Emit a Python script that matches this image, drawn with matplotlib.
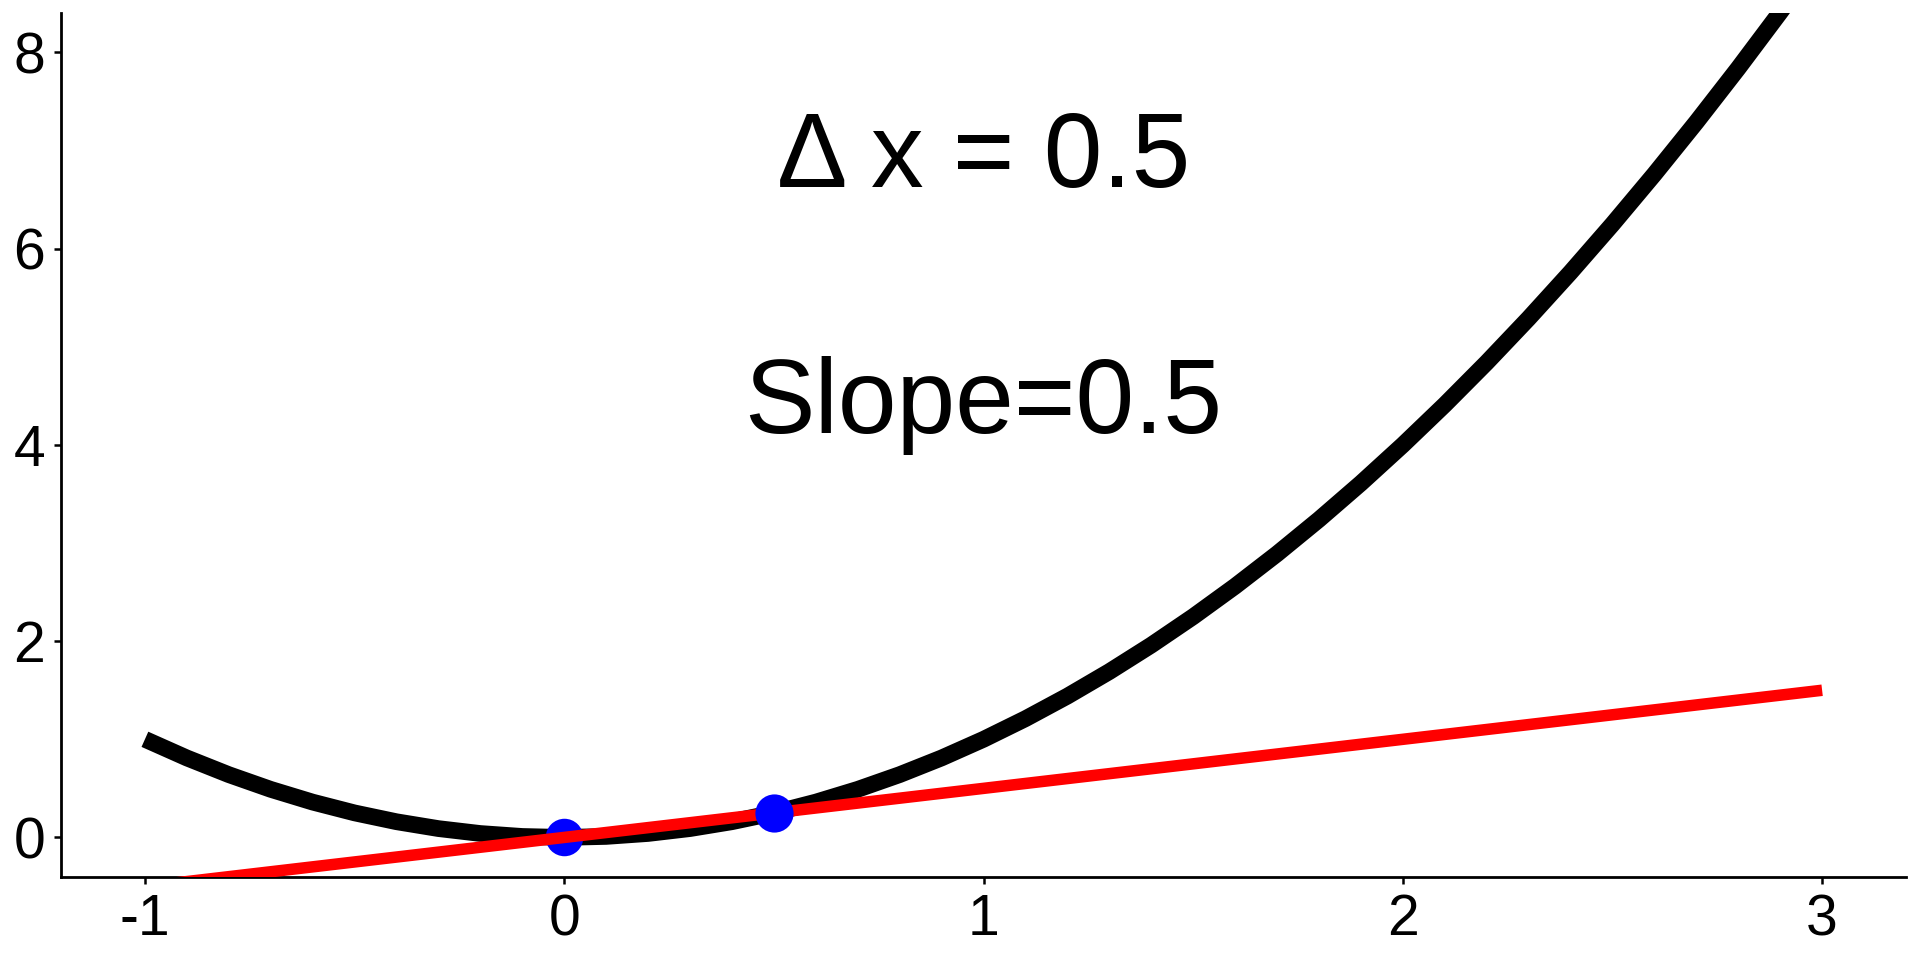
import matplotlib
matplotlib.use("Agg")
import matplotlib.pyplot as plt

# Curve y = x^2
curve_x = [-1.0, -0.9, -0.8, -0.7, -0.6, -0.5, -0.4, -0.3, -0.2, -0.1,
           0.0, 0.1, 0.2, 0.3, 0.4, 0.5, 0.6, 0.7, 0.8, 0.9,
           1.0, 1.1, 1.2, 1.3, 1.4, 1.5, 1.6, 1.7, 1.8, 1.9,
           2.0, 2.1, 2.2, 2.3, 2.4, 2.5, 2.6, 2.7, 2.8, 2.9, 3.0]
curve_y = [1.00, 0.81, 0.64, 0.49, 0.36, 0.25, 0.16, 0.09, 0.04, 0.01,
           0.00, 0.01, 0.04, 0.09, 0.16, 0.25, 0.36, 0.49, 0.64, 0.81,
           1.00, 1.21, 1.44, 1.69, 1.96, 2.25, 2.56, 2.89, 3.24, 3.61,
           4.00, 4.41, 4.84, 5.29, 5.76, 6.25, 6.76, 7.29, 7.84, 8.41, 9.00]

# Secant line
line_x = [-1.0, 3.0]
line_y = [-0.5, 1.5]

# Points
pt_x = [0.0, 0.5]
pt_y = [0.0, 0.25]

x_ticks = [-1, 0, 1, 2, 3]
x_ticklabels = ["-1", "0", "1", "2", "3"]
y_ticks = [0, 2, 4, 6, 8]
y_ticklabels = ["0", "2", "4", "6", "8"]

label_dx = "\u0394 x = 0.5"
label_slope = "Slope=0.5"

plt.rcParams['font.family'] = ['Liberation Sans', 'DejaVu Sans']

fig = plt.figure(figsize=(19.2, 9.6), dpi=100)
ax = fig.add_axes([0.0318, 0.0868, 0.9609, 0.8994])

ax.plot(curve_x, curve_y, color="black", lw=12, solid_capstyle="butt",
        solid_joinstyle="round", zorder=2)
ax.plot(pt_x[:1], pt_y[:1], "o", color="#0000ff", ms=27, mec="none", zorder=3)
ax.plot(line_x, line_y, color="#ff0000", lw=8.3, solid_capstyle="butt", zorder=4)
ax.plot(pt_x[1:], pt_y[1:], "o", color="#0000ff", ms=27.5, mec="none", zorder=5)

ax.text(1.0, 6.63, label_dx, fontsize=76, ha="center", va="baseline")
ax.text(1.0, 4.12, label_slope, fontsize=76, ha="center", va="baseline")

ax.set_xlim(-1.2, 3.2)
ax.set_ylim(-0.4, 8.4)
ax.set_xticks(x_ticks)
ax.set_xticklabels(x_ticklabels)
ax.set_yticks(y_ticks)
ax.set_yticklabels(y_ticklabels)

for s in ["top", "right"]:
    ax.spines[s].set_visible(False)
for s in ["left", "bottom"]:
    ax.spines[s].set_linewidth(2.0)
ax.tick_params(axis="both", length=5, width=1.8, labelsize=41, color="black")
ax.tick_params(axis="x", pad=7)
ax.tick_params(axis="y", pad=6.5)

fig.savefig("out.png", dpi=100)
